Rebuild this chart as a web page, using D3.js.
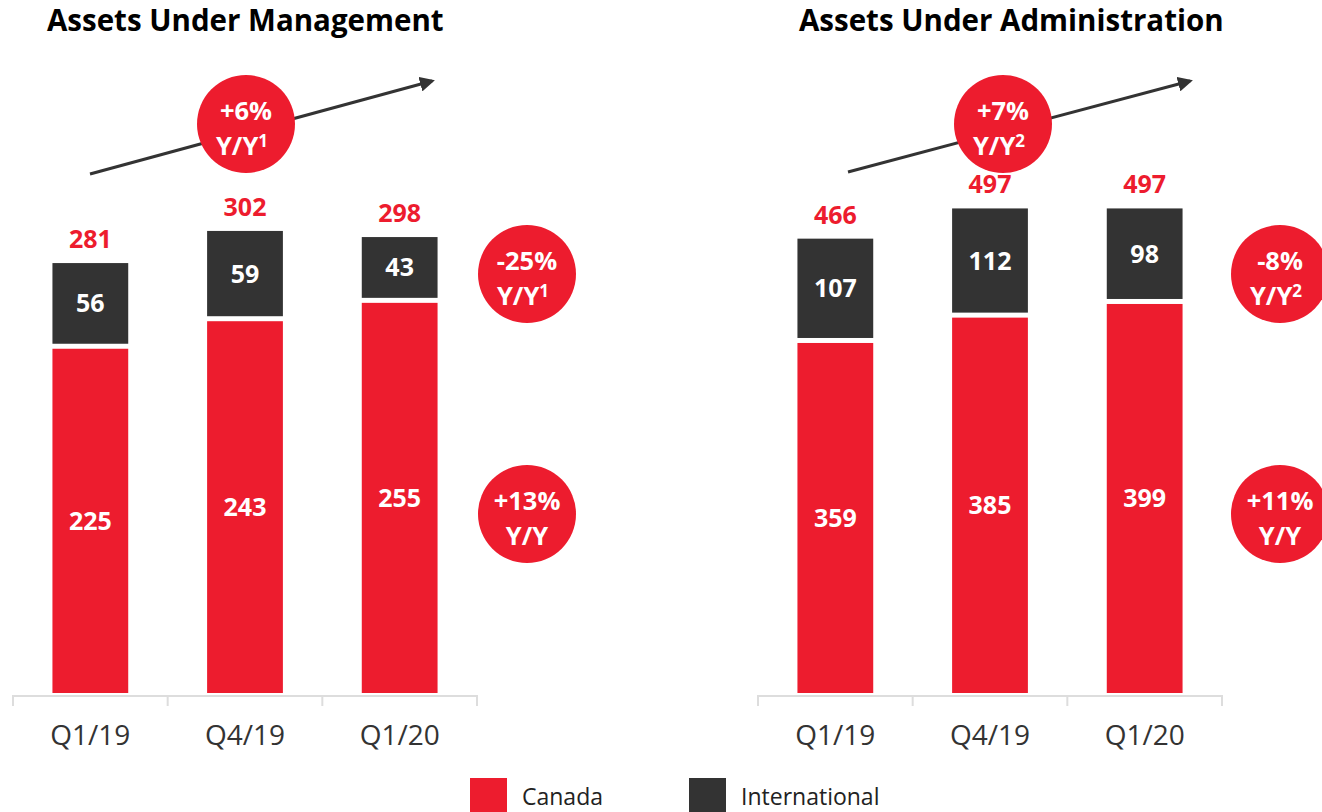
<!DOCTYPE html>
<html>
<head>
<meta charset="utf-8">
<script src="https://cdn.jsdelivr.net/npm/d3@7"></script>
<style>
  body { margin: 0; background: #fff; }
  svg { display: block; font-family: "Open Sans", "Noto Sans", sans-serif; }
</style>
</head>
<body>
<svg id="chart" width="1322" height="812"></svg>
<script>
// data
var quarters = ['Q1/19', 'Q4/19', 'Q1/20'];
var aumCanada = [225, 243, 255];
var aumIntl = [56, 59, 43];
var aumTotal = [281, 302, 298];
var auaCanada = [359, 385, 399];
var auaIntl = [107, 112, 98];
var auaTotal = [466, 497, 497];
var seriesNames = ['Canada', 'International'];

var RED = '#ed1c2e', DARK = '#333333';

var svg = d3.select('#chart');

svg.append('defs').append('marker')
  .attr('id', 'arrow')
  .attr('viewBox', '0 0 10 10')
  .attr('refX', 8).attr('refY', 5)
  .attr('markerWidth', 5).attr('markerHeight', 5)
  .attr('orient', 'auto')
  .append('path').attr('d', 'M0,0 L10,5 L0,10 z').attr('fill', DARK);

function drawPanel(opts) {
  var g = svg.append('g');
  var x = d3.scaleBand().domain(quarters).range(opts.xRange)
    .paddingInner(0.51).paddingOuter(0.255);
  var y = d3.scaleLinear().domain([0, opts.yMax]).range([693, opts.yTop]);

  // title
  g.append('text').attr('x', opts.titleX).attr('y', 31)
    .attr('font-size', 29.5).attr('font-weight', 700).attr('fill', '#000')
    .text(opts.title);

  var rows = quarters.map(function(q, i) {
    return { q: q, ca: opts.canada[i], intl: opts.intl[i], total: opts.total[i] };
  });

  // canada
  g.selectAll('.ca').data(rows).enter().append('rect')
    .attr('x', function(d) { return x(d.q); })
    .attr('width', x.bandwidth())
    .attr('y', function(d) { return y(d.ca); })
    .attr('height', function(d) { return y(0) - y(d.ca); })
    .attr('fill', RED);

  // international (white gap above canada)
  g.selectAll('.intl').data(rows).enter().append('rect')
    .attr('x', function(d) { return x(d.q); })
    .attr('width', x.bandwidth())
    .attr('y', function(d) { return y(d.total); })
    .attr('height', function(d) { return y(d.ca) - y(d.total) - 5; })
    .attr('fill', DARK);

  var cx = function(d) { return x(d.q) + x.bandwidth() / 2; };

  g.selectAll('.lca').data(rows).enter().append('text')
    .attr('x', cx)
    .attr('y', function(d) { return (y(0) + y(d.ca)) / 2 + 9; })
    .attr('text-anchor', 'middle').attr('font-size', 25).attr('font-weight', 700)
    .attr('fill', '#fff').text(function(d) { return d.ca; });

  g.selectAll('.lintl').data(rows).enter().append('text')
    .attr('x', cx)
    .attr('y', function(d) { return (y(d.total) + y(d.ca) - 5) / 2 + 9; })
    .attr('text-anchor', 'middle').attr('font-size', 25).attr('font-weight', 700)
    .attr('fill', '#fff').text(function(d) { return d.intl; });

  g.selectAll('.ltot').data(rows).enter().append('text')
    .attr('x', cx)
    .attr('y', function(d) { return y(d.total) - 15; })
    .attr('text-anchor', 'middle').attr('font-size', 25).attr('font-weight', 700)
    .attr('fill', RED).text(function(d) { return d.total; });

  // axis
  var axis = g.append('g').attr('transform', 'translate(0,696)')
    .call(d3.axisBottom(x).tickSize(0).tickPadding(29));
  axis.select('.domain').remove();
  axis.selectAll('text').attr('font-size', 28).attr('fill', '#333')
    .attr('font-family', '"Open Sans", sans-serif');
  g.append('line').attr('x1', opts.xRange[0]).attr('x2', opts.xRange[1])
    .attr('y1', 696).attr('y2', 696).attr('stroke', '#ddd').attr('stroke-width', 2);
  d3.range(quarters.length + 1).forEach(function(i) {
    var tx = opts.xRange[0] + i * x.step();
    g.append('line').attr('x1', tx).attr('x2', tx).attr('y1', 695).attr('y2', 706)
      .attr('stroke', '#ddd').attr('stroke-width', 2);
  });

  // trend arrow
  g.append('line')
    .attr('x1', opts.arrow[0]).attr('y1', opts.arrow[1])
    .attr('x2', opts.arrow[2]).attr('y2', opts.arrow[3])
    .attr('stroke', DARK).attr('stroke-width', 3)
    .attr('marker-end', 'url(#arrow)');

  // growth bubbles
  opts.bubbles.forEach(function(b) {
    var bg = g.append('g').attr('transform', 'translate(' + b.x + ',' + b.y + ')');
    bg.append('circle').attr('r', 49).attr('fill', RED);
    bg.append('text').attr('y', -4).attr('text-anchor', 'middle')
      .attr('font-size', 25.5).attr('font-weight', 700).attr('fill', '#fff').text(b.top);
    var t = bg.append('text').attr('x', b.sup ? -4 : 0).attr('y', 31).attr('text-anchor', 'middle')
      .attr('font-size', 25.5).attr('font-weight', 700).attr('fill', '#fff');
    t.append('tspan').text('Y/Y');
    if (b.sup) t.append('tspan').attr('font-size', 17).attr('dy', -8).text(b.sup);
  });
}

drawPanel({
  title: 'Assets Under Management', titleX: 47,
  xRange: [13, 477], yMax: 300, yTop: 234,
  canada: aumCanada, intl: aumIntl, total: aumTotal,
  arrow: [90, 174, 432, 81],
  bubbles: [
    { x: 246, y: 124, top: '+6%', sup: '1' },
    { x: 527, y: 274, top: '-25%', sup: '1' },
    { x: 527, y: 514, top: '+13%', sup: '' }
  ]
});

drawPanel({
  title: 'Assets Under Administration', titleX: 799,
  xRange: [758, 1222], yMax: 500, yTop: 205.5,
  canada: auaCanada, intl: auaIntl, total: auaTotal,
  arrow: [848, 172, 1190, 81],
  bubbles: [
    { x: 1003, y: 124, top: '+7%', sup: '2' },
    { x: 1280, y: 274, top: '-8%', sup: '2' },
    { x: 1280, y: 514, top: '+11%', sup: '' }
  ]
});

// legend
var legend = svg.append('g').attr('transform', 'translate(470,778)');
legend.selectAll('rect').data(seriesNames).enter().append('rect')
  .attr('x', function(d, i) { return i * 219; })
  .attr('width', 37).attr('height', 37)
  .attr('fill', function(d, i) { return i === 0 ? RED : DARK; });
legend.selectAll('text').data(seriesNames).enter().append('text')
  .attr('x', function(d, i) { return i * 219 + 52; })
  .attr('y', 27).attr('font-size', 23).attr('fill', '#222')
  .text(function(d) { return d; });
</script>
</body>
</html>
